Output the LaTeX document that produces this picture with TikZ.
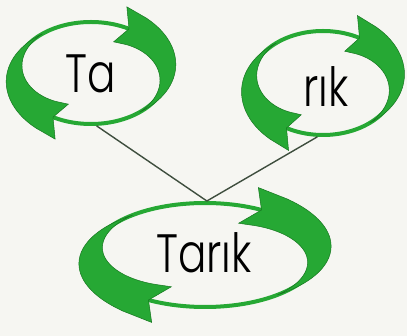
\documentclass[tikz,border=0pt]{standalone}
\usepackage{fontspec}
\setmainfont{Poppins}[UprightFont=* Light, FakeStretch=0.78]
\usetikzlibrary{shapes.geometric}

\definecolor{ringgreen}{RGB}{38,168,52}
\definecolor{ringdark}{RGB}{22,118,32}
\definecolor{paper}{RGB}{246,246,242}
\definecolor{linkgray}{RGB}{62,78,62}

% curved arrow head lying on ellipse node #1 (half axes #2, #3), turned by #4
\newcommand{\crescent}[4]{%
  \fill[ringgreen, draw=ringdark, line width=0.5pt, shift={(#1.center)}]
    ({#2*1.38*cos(-70+#4)},{#3*1.38*sin(-70+#4)})
    -- plot[domain=-56:50, samples=30, smooth]
       ({#2*(1+0.15*((50-\x)/106)*(1+(50-\x)/106))*cos(\x+#4)},
        {#3*(1+0.15*((50-\x)/106)*(1+(50-\x)/106))*sin(\x+#4)})
    -- plot[domain=50:-56, samples=30, smooth]
       ({#2*(1-0.15*((50-\x)/106)*(1+(50-\x)/106))*cos(\x+#4)},
        {#3*(1-0.15*((50-\x)/106)*(1+(50-\x)/106))*sin(\x+#4)})
    -- ({#2*0.68*cos(-64+#4)},{#3*0.68*sin(-64+#4)})
    -- ({#2*cos(-60+#4)},{#3*sin(-60+#4)}) -- cycle;}

\tikzset{
  ring/.style={draw=ringgreen, ellipse, line width=4pt, inner sep=0pt},
  word/.style={anchor=base, inner sep=0pt,
    font=\fontsize{54}{60}\selectfont},
  link/.style={draw=linkgray, line width=1.4pt}
}

\begin{document}
\begin{tikzpicture}[x=1pt, y=-1pt]
  \fill[paper] (0,0) rectangle (407,336);
  \useasboundingbox (0,0) rectangle (407,336);

  \node[ring, minimum width=152pt, minimum height=102pt] (ta) at (91,73) {};
  \node[ring, minimum width=146pt, minimum height=104pt] (rik) at (323,83) {};
  \node[ring, minimum width=226pt, minimum height=104pt] (tarik) at (205,255) {};

  \draw[link] (ta.-84) -- (tarik.88);
  \draw[link] (rik.-96) -- (tarik.88);

  \crescent{ta}{76}{51}{0}
  \crescent{ta}{76}{51}{180}
  \crescent{rik}{73}{52}{0}
  \crescent{rik}{73}{52}{180}
  \crescent{tarik}{113}{52}{0}
  \crescent{tarik}{113}{52}{180}

  \node[word] (tatext) at (91,93) {Ta};
  \node[word] (riktext) at (326,107) {rık};
  \node[word] (tariktext) at (204,273) {Tarık};
\end{tikzpicture}
\end{document}
